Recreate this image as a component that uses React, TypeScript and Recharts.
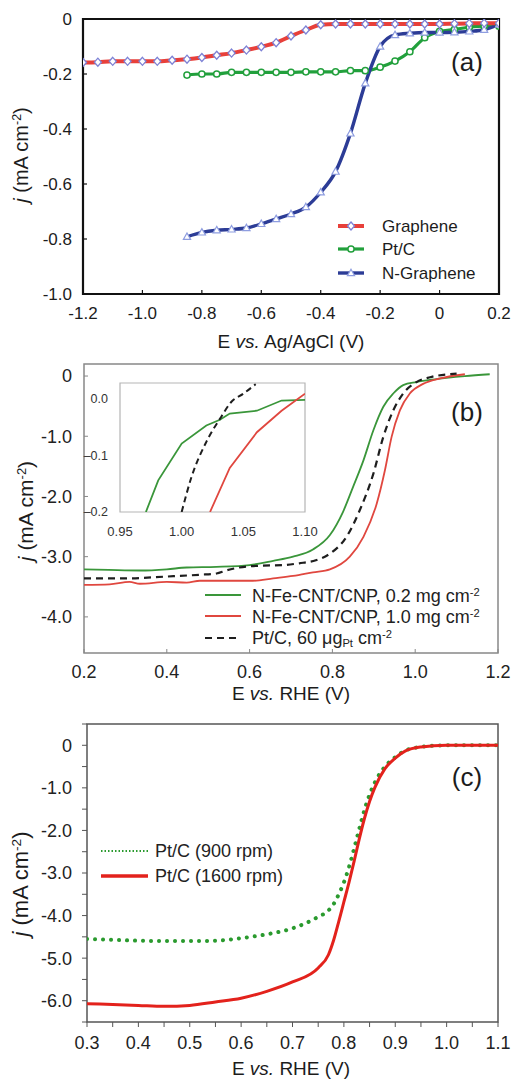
import React from "react"
import { LineChart, Line, XAxis, YAxis, ReferenceArea } from "recharts"

const FONT = "'Liberation Sans', Arial, Helvetica, sans-serif"

// ---- panel (a): E vs. Ag/AgCl ----
const aGrapheneE = [
  -1.2, -1.15, -1.1, -1.05, -1.0, -0.95, -0.9, -0.85, -0.8, -0.75, -0.7, -0.65, -0.6, -0.55, -0.5,
  -0.45, -0.4, -0.35, -0.3, -0.25, -0.2, -0.15, -0.1, -0.05, 0, 0.05, 0.1, 0.15, 0.2,
]
const aGrapheneJ = [
  -0.158, -0.157, -0.154, -0.154, -0.154, -0.154, -0.15, -0.146, -0.14, -0.132, -0.124, -0.113, -0.101,
  -0.086, -0.062, -0.04, -0.021, -0.018, -0.018, -0.018, -0.018, -0.018, -0.018, -0.018, -0.018,
  -0.017, -0.016, -0.015, -0.015,
]
const aPtCE = [
  -0.85, -0.8, -0.75, -0.7, -0.65, -0.6, -0.55, -0.5, -0.45, -0.4, -0.35, -0.3, -0.25, -0.2, -0.15,
  -0.1, -0.05, 0, 0.05, 0.1, 0.15, 0.2,
]
const aPtCJ = [
  -0.204, -0.2, -0.2, -0.194, -0.194, -0.194, -0.194, -0.194, -0.192, -0.192, -0.192, -0.188, -0.188,
  -0.175, -0.153, -0.119, -0.068, -0.045, -0.038, -0.03, -0.026, -0.026,
]
const aNGrapheneJ = [
  -0.792, -0.776, -0.768, -0.765, -0.76, -0.745, -0.727, -0.709, -0.684, -0.63, -0.555, -0.416, -0.234,
  -0.1, -0.058, -0.052, -0.049, -0.049, -0.048, -0.045, -0.039, -0.02,
]
const aXTicks = [-1.2, -1.0, -0.8, -0.6, -0.4, -0.2, 0, 0.2]
const aYTicks = [-1.0, -0.8, -0.6, -0.4, -0.2, 0]

// ---- panel (b): E vs. RHE ----
const bGreenE = [
  0.2, 0.26, 0.335, 0.4, 0.448, 0.52, 0.6, 0.657, 0.705, 0.753, 0.794, 0.826, 0.85, 0.875, 0.899,
  0.923, 0.947, 0.971, 1.003, 1.04, 1.076, 1.12, 1.18,
]
const bGreenJ = [
  -3.21, -3.22, -3.23, -3.21, -3.18, -3.17, -3.14, -3.07, -3.0, -2.88, -2.64, -2.25, -1.84, -1.4, -0.9,
  -0.51, -0.29, -0.15, -0.1, -0.06, -0.03, 0.0, 0.03,
]
const bRedE = [
  0.2, 0.262, 0.31, 0.335, 0.4, 0.448, 0.48, 0.56, 0.608, 0.657, 0.705, 0.753, 0.794, 0.842, 0.875,
  0.907, 0.927, 0.943, 0.963, 0.987, 1.019, 1.06, 1.12,
]
const bRedJ = [
  -3.47, -3.46, -3.42, -3.45, -3.42, -3.43, -3.4, -3.4, -3.4, -3.36, -3.32, -3.26, -3.21, -3.0, -2.67,
  -2.12, -1.56, -1.01, -0.57, -0.29, -0.13, -0.04, 0.03,
]
const bPtE = [
  0.2, 0.306, 0.4, 0.48, 0.52, 0.543, 0.575, 0.624, 0.68, 0.72, 0.76, 0.794, 0.834, 0.866, 0.899,
  0.923, 0.947, 0.971, 1.003, 1.036, 1.1,
]
const bPtJ = [
  -3.36, -3.36, -3.33, -3.3, -3.28, -3.23, -3.18, -3.15, -3.14, -3.11, -3.06, -2.95, -2.67, -2.23,
  -1.62, -1.01, -0.57, -0.29, -0.1, -0.02, 0.04,
]
const bXTicks = [0.2, 0.4, 0.6, 0.8, 1.0, 1.2]
const bYTicks = [-4, -3, -2, -1, 0]

// inset of (b)
const insetGreenE = [0.971, 0.981, 1.0, 1.02, 1.031, 1.039, 1.061, 1.081, 1.1]
const insetGreenJ = [-0.2, -0.144, -0.079, -0.047, -0.037, -0.026, -0.021, -0.003, -0.002]
const insetPtE = [1.0, 1.008, 1.02, 1.032, 1.04, 1.05, 1.06]
const insetPtJ = [-0.2, -0.138, -0.076, -0.032, -0.006, 0.009, 0.026]
const insetRedE = [1.023, 1.039, 1.061, 1.081, 1.1]
const insetRedJ = [-0.2, -0.122, -0.059, -0.021, 0.009]
const insetXTicks = [0.95, 1.0, 1.05, 1.1]
const insetYTicks = [-0.2, -0.1, 0]

// ---- panel (c): Pt/C at two rotation rates ----
const cE = [
  0.3, 0.35, 0.4, 0.45, 0.5, 0.55, 0.6, 0.65, 0.7, 0.75, 0.77, 0.78, 0.79, 0.8, 0.81, 0.82, 0.83, 0.84,
  0.85, 0.86, 0.88, 0.9, 0.92, 0.95, 1.0, 1.05, 1.1,
]
const c1600J = [
  -6.07, -6.09, -6.11, -6.13, -6.11, -6.03, -5.94, -5.78, -5.56, -5.23, -4.92, -4.58, -4.14, -3.68, -3.22,
  -2.72, -2.2, -1.72, -1.32, -1.0, -0.55, -0.3, -0.13, -0.04, 0, 0, 0,
]
const c900J = [
  -4.55, -4.57, -4.59, -4.6, -4.6, -4.59, -4.53, -4.44, -4.3, -4.03, -3.88, -3.73, -3.5, -3.22, -2.86,
  -2.42, -1.96, -1.52, -1.16, -0.88, -0.5, -0.28, -0.12, -0.04, 0, 0, 0,
]
const cXTicks = [
  0.3, 0.35, 0.4, 0.45, 0.5, 0.55, 0.6, 0.65, 0.7, 0.75, 0.8, 0.85, 0.9, 0.95, 1.0, 1.05, 1.1,
]
const cYTicks = [-6.5, -6, -5.5, -5, -4.5, -4, -3.5, -3, -2.5, -2, -1.5, -1, -0.5, 0, 0.5]

const pts = (xs: number[], ys: number[]) => xs.map((E, i) => ({ E, j: ys[i] }))

const fmt1 = (v: number) => (v === 0 ? "0" : v.toFixed(1))

const RED_A = "#e8403a"
const GREEN_A = "#22a03c"
const BLUE_A = "#2c3c96"

const diamondDot = (props: any) => {
  const { cx, cy, index } = props
  if (cx == null || cy == null) return <g key={index} />
  return (
    <polygon
      key={index}
      points={`${cx},${cy - 4} ${cx + 3.5},${cy} ${cx},${cy + 4} ${cx - 3.5},${cy}`}
      fill="#fff"
      stroke="#7d82d6"
      strokeWidth={1.3}
    />
  )
}

const circleDot = (props: any) => {
  const { cx, cy, index } = props
  if (cx == null || cy == null) return <g key={index} />
  return <circle key={index} cx={cx} cy={cy} r={3.1} fill="#fff" stroke={GREEN_A} strokeWidth={1.5} />
}

const triangleDot = (props: any) => {
  const { cx, cy, index } = props
  if (cx == null || cy == null) return <g key={index} />
  return (
    <polygon
      key={index}
      points={`${cx},${cy - 3.8} ${cx + 3.6},${cy + 2.6} ${cx - 3.6},${cy + 2.6}`}
      fill="#fff"
      stroke="#8e9de0"
      strokeWidth={1.2}
    />
  )
}

function Txt({
  x,
  y,
  size,
  children,
  anchor = "start",
  rotate = false,
  color = "#1c1c1c",
}: {
  x: number
  y: number
  size: number
  children: React.ReactNode
  anchor?: "start" | "middle"
  rotate?: boolean
  color?: string
}) {
  const transform = rotate
    ? "translate(-50%, -50%) rotate(-90deg)"
    : anchor === "middle"
      ? "translate(-50%, -50%)"
      : "translate(0, -50%)"
  return (
    <div
      style={{
        position: "absolute",
        left: x,
        top: y,
        fontSize: size,
        lineHeight: 1,
        whiteSpace: "nowrap",
        fontFamily: FONT,
        color,
        transform,
      }}
    >
      {children}
    </div>
  )
}

const Sup = ({ children }: { children: React.ReactNode }) => (
  <span style={{ fontSize: "0.62em", position: "relative", top: "-0.55em" }}>{children}</span>
)
const Sub = ({ children }: { children: React.ReactNode }) => (
  <span style={{ fontSize: "0.62em", position: "relative", top: "0.25em" }}>{children}</span>
)

const JTitle = () => (
  <>
    <i>j</i> (mA cm<Sup>-2</Sup>)
  </>
)

export default function App() {
  const tickA = { fontSize: 17, fill: "#1c1c1c", fontFamily: FONT }
  const tickB = { fontSize: 18, fill: "#222", fontFamily: FONT }
  const tickC = { fontSize: 18, fill: "#222", fontFamily: FONT }

  return (
    <div style={{ position: "absolute", left: 0, top: 0, width: 512, height: 1084, background: "#fff" }}>
      {/* (a) */}
      <div style={{ position: "absolute", left: 0, top: 0 }}>
        <LineChart width={512} height={350} margin={{ top: 19, right: 13, bottom: 0, left: 0 }}>
          <XAxis
            dataKey="E"
            type="number"
            domain={[-1.2, 0.2]}
            ticks={aXTicks}
            interval={0}
            tickFormatter={fmt1}
            height={56}
            axisLine={false}
            tickSize={-4}
            tickMargin={17}
            tickLine={{ stroke: "#111", strokeWidth: 1.2 }}
            tick={tickA}
            allowDataOverflow
          />
          <YAxis
            type="number"
            domain={[-1, 0]}
            ticks={aYTicks}
            interval={0}
            tickFormatter={fmt1}
            width={83}
            axisLine={false}
            tickSize={-4}
            tickMargin={15}
            tickLine={{ stroke: "#111", strokeWidth: 1.2 }}
            tick={tickA}
            allowDataOverflow
          />
          <Line
            data={pts(aPtCE, aPtCJ)}
            dataKey="j"
            type="monotone"
            stroke={GREEN_A}
            strokeWidth={3.2}
            dot={circleDot}
            isAnimationActive={false}
          />
          <Line
            data={pts(aPtCE, aNGrapheneJ)}
            dataKey="j"
            type="monotone"
            stroke={BLUE_A}
            strokeWidth={3.4}
            dot={triangleDot}
            isAnimationActive={false}
          />
          <Line
            data={pts(aGrapheneE, aGrapheneJ)}
            dataKey="j"
            type="monotone"
            stroke={RED_A}
            strokeWidth={4}
            dot={diamondDot}
            isAnimationActive={false}
          />
          <ReferenceArea
            x1={-1.2}
            x2={0.2}
            y1={-1}
            y2={0}
            fill="none"
            stroke="#111"
            strokeWidth={2.2}
            ifOverflow="visible"
          />
        </LineChart>
      </div>

      {/* (b) */}
      <div style={{ position: "absolute", left: 0, top: 350 }}>
        <LineChart width={512} height={355} margin={{ top: 14, right: 14, bottom: 0, left: 0 }}>
          <XAxis
            dataKey="E"
            type="number"
            domain={[0.2, 1.2]}
            ticks={bXTicks}
            interval={0}
            tickFormatter={fmt1}
            height={52}
            axisLine={false}
            tickSize={-4}
            tickMargin={16}
            tickLine={{ stroke: "#888" }}
            tick={tickB}
            allowDataOverflow
          />
          <YAxis
            type="number"
            domain={[-4.6, 0.2]}
            ticks={bYTicks}
            interval={0}
            tickFormatter={fmt1}
            width={84}
            axisLine={false}
            tickSize={-4}
            tickMargin={16}
            tickLine={{ stroke: "#888" }}
            tick={tickB}
            allowDataOverflow
          />
          <Line data={pts(bGreenE, bGreenJ)} dataKey="j" type="monotone" stroke="#3a963a" strokeWidth={1.8} dot={false} isAnimationActive={false} />
          <Line data={pts(bRedE, bRedJ)} dataKey="j" type="monotone" stroke="#e0473f" strokeWidth={1.8} dot={false} isAnimationActive={false} />
          <Line
            data={pts(bPtE, bPtJ)}
            dataKey="j"
            type="monotone"
            stroke="#1e1e1e"
            strokeWidth={2.2}
            strokeDasharray="7 5"
            dot={false}
            isAnimationActive={false}
          />
          <ReferenceArea x1={0.2} x2={1.2} y1={-4.6} y2={0.2} fill="none" stroke="#888" strokeWidth={1.5} ifOverflow="visible" />
        </LineChart>
      </div>

      {/* inset of (b) */}
      <div style={{ position: "absolute", left: 0, top: 370 }}>
        <LineChart width={320} height={170} margin={{ top: 13, right: 15, bottom: 0, left: 0 }}>
          <XAxis
            dataKey="E"
            type="number"
            domain={[0.95, 1.1]}
            ticks={insetXTicks}
            interval={0}
            tickFormatter={(v: number) => v.toFixed(2)}
            height={28}
            axisLine={false}
            tickLine={false}
            tickMargin={9}
            tick={{ fontSize: 13, fill: "#333", fontFamily: FONT }}
            allowDataOverflow
          />
          <YAxis
            type="number"
            domain={[-0.2, 0.028]}
            ticks={insetYTicks}
            interval={0}
            tickFormatter={(v: number) => (v === 0 ? "0.0" : "\u2013" + Math.abs(v).toFixed(1))}
            width={120}
            axisLine={false}
            tickLine={false}
            tickMargin={6}
            tick={{ fontSize: 12.5, fill: "#333", fontFamily: FONT }}
            allowDataOverflow
          />
          <ReferenceArea x1={0.95} x2={1.1} y1={-0.2} y2={0.028} fill="#fff" stroke="#b5b5b5" strokeWidth={1.2} ifOverflow="visible" />
          <Line data={pts(insetGreenE, insetGreenJ)} dataKey="j" type="linear" stroke="#3a963a" strokeWidth={1.8} dot={false} isAnimationActive={false} />
          <Line data={pts(insetRedE, insetRedJ)} dataKey="j" type="linear" stroke="#e0473f" strokeWidth={1.8} dot={false} isAnimationActive={false} />
          <Line
            data={pts(insetPtE, insetPtJ)}
            dataKey="j"
            type="monotone"
            stroke="#1e1e1e"
            strokeWidth={2}
            strokeDasharray="6 4"
            dot={false}
            isAnimationActive={false}
          />
        </LineChart>
      </div>

      {/* (c) */}
      <div style={{ position: "absolute", left: 0, top: 705 }}>
        <LineChart width={512} height={379} margin={{ top: 19, right: 14, bottom: 0, left: 0 }}>
          <XAxis
            dataKey="E"
            type="number"
            domain={[0.3, 1.1]}
            ticks={cXTicks}
            interval={0}
            tickFormatter={(v: number) => (Math.round(v * 100) % 10 === 0 ? v.toFixed(1) : "")}
            height={62}
            axisLine={false}
            tickSize={5}
            tickMargin={9}
            tickLine={{ stroke: "#555" }}
            tick={tickC}
            allowDataOverflow
          />
          <YAxis
            type="number"
            domain={[-6.5, 0.5]}
            ticks={cYTicks}
            interval={0}
            tickFormatter={(v: number) => (Number.isInteger(v) ? fmt1(v) : "")}
            width={87}
            axisLine={false}
            tickSize={5}
            tickMargin={10}
            tickLine={{ stroke: "#555" }}
            tick={tickC}
            allowDataOverflow
          />
          <Line
            data={pts(cE, c900J)}
            dataKey="j"
            type="monotone"
            stroke="#2a9a2e"
            strokeWidth={4}
            strokeDasharray="0.1 7.9"
            strokeLinecap="round"
            dot={false}
            isAnimationActive={false}
          />
          <Line data={pts(cE, c1600J)} dataKey="j" type="monotone" stroke="#e3221c" strokeWidth={3} dot={false} isAnimationActive={false} />
          <ReferenceArea x1={0.3} x2={1.1} y1={-6.5} y2={0.5} fill="none" stroke="#555" strokeWidth={1.5} ifOverflow="visible" />
        </LineChart>
      </div>

      {/* axis titles */}
      <Txt x={21} y={155} size={20} rotate>
        <JTitle />
      </Txt>
      <Txt x={291} y={341} size={19} anchor="middle">
        E <i>vs.</i> Ag/AgCl (V)
      </Txt>
      <Txt x={25} y={511} size={21} rotate>
        <JTitle />
      </Txt>
      <Txt x={291} y={693} size={19} anchor="middle">
        E <i>vs.</i> RHE (V)
      </Txt>
      <Txt x={21} y={884} size={22} rotate>
        <JTitle />
      </Txt>
      <Txt x={291} y={1068} size={19} anchor="middle">
        E <i>vs.</i> RHE (V)
      </Txt>

      {/* panel labels */}
      <Txt x={467} y={62} size={26} anchor="middle">(a)</Txt>
      <Txt x={467} y={412} size={26} anchor="middle">(b)</Txt>
      <Txt x={467} y={777} size={26} anchor="middle">(c)</Txt>

      {/* legend (a) */}
      <svg style={{ position: "absolute", left: 336, top: 214 }} width={30} height={70}>
        <line x1={2} y1={12} x2={28} y2={12} stroke={RED_A} strokeWidth={4} />
        <polygon points="15,8 18.5,12 15,16 11.5,12" fill="#fff" stroke="#7d82d6" strokeWidth={1.3} />
        <line x1={2} y1={35} x2={28} y2={35} stroke={GREEN_A} strokeWidth={3.2} />
        <circle cx={15} cy={35} r={3.1} fill="#fff" stroke={GREEN_A} strokeWidth={1.5} />
        <line x1={2} y1={59} x2={28} y2={59} stroke={BLUE_A} strokeWidth={3.4} />
        <polygon points="15,55.2 18.6,61.6 11.4,61.6" fill="#fff" stroke="#8e9de0" strokeWidth={1.2} />
      </svg>
      <Txt x={382} y={226} size={17}>Graphene</Txt>
      <Txt x={382} y={249} size={17}>Pt/C</Txt>
      <Txt x={382} y={273} size={17}>N-Graphene</Txt>

      {/* legend (b) */}
      <svg style={{ position: "absolute", left: 204, top: 585 }} width={40} height={65}>
        <line x1={1} y1={10} x2={37} y2={10} stroke="#3a963a" strokeWidth={2} />
        <line x1={1} y1={31} x2={37} y2={31} stroke="#e0473f" strokeWidth={2} />
        <line x1={1} y1={53} x2={37} y2={53} stroke="#1e1e1e" strokeWidth={2.2} strokeDasharray="7 5" />
      </svg>
      <Txt x={252} y={596} size={18} color="#222">
        N-Fe-CNT/CNP, 0.2 mg cm<Sup>-2</Sup>
      </Txt>
      <Txt x={252} y={617} size={18} color="#222">
        N-Fe-CNT/CNP, 1.0 mg cm<Sup>-2</Sup>
      </Txt>
      <Txt x={252} y={638} size={18} color="#222">
        Pt/C, 60 μg<Sub>Pt</Sub> cm<Sup>-2</Sup>
      </Txt>

      {/* legend (c) */}
      <svg style={{ position: "absolute", left: 100, top: 840 }} width={50} height={48}>
        <line x1={1} y1={11} x2={48} y2={11} stroke="#2a9a2e" strokeWidth={1.8} strokeDasharray="1.5 2" />
        <line x1={1} y1={36} x2={48} y2={36} stroke="#e3221c" strokeWidth={3.5} />
      </svg>
      <Txt x={155} y={851} size={18} color="#222">Pt/C (900 rpm)</Txt>
      <Txt x={155} y={876} size={18} color="#222">Pt/C (1600 rpm)</Txt>
    </div>
  )
}
